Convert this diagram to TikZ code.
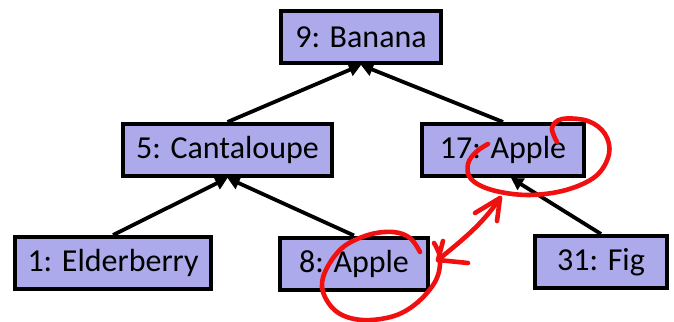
\documentclass[tikz,border=0pt]{standalone}
\usepackage{fontspec}
\setmainfont{Carlito}
\usetikzlibrary{arrows.meta}
\definecolor{boxfill}{RGB}{172,170,234}
\definecolor{inkred}{RGB}{240,16,16}
\begin{document}
\begin{tikzpicture}[x=1pt,y=-1pt,
  keybox/.style={draw=black, fill=boxfill, line width=4pt, rectangle,
    inner sep=0pt, minimum height=52pt, font=\fontsize{32}{36}\selectfont},
  link/.style={line width=3.8pt, -{Triangle[length=12pt,width=13pt]}},
  ink/.style={draw=inkred, line width=4.6pt, line cap=round, line join=round}]
\useasboundingbox (0,0) rectangle (674,321);

% tree nodes
\node[keybox, minimum width=160pt] (banana) at (361,37) {9: Banana};
\node[keybox, minimum width=209pt] (cant)   at (227.5,150) {5: Cantaloupe};
\node[keybox, minimum width=162pt] (appleA) at (503,150) {17: Apple};
\node[keybox, minimum width=196pt] (elder)  at (113,263) {1: Elderberry};
\node[keybox, minimum width=148pt] (appleB) at (354,263.5) {8: Apple};
\node[keybox, minimum width=132pt] (fig)    at (601,262) {31: Fig};

% child-to-parent links
\draw[link] (cant.north)   -- (banana.south);
\draw[link] (appleA.north) -- (banana.south);
\draw[link] (elder.north)  -- (cant.south);
\draw[link] (appleB.north) -- (cant.south);
\draw[link] (fig.north)    -- ([xshift=8pt]appleA.south);

% hand-drawn circles around the duplicate keys
\draw[ink] plot[smooth, tension=0.6] coordinates {
  (557,142) (552,128) (562,119) (588,121) (605,134) (609,154) (596,176)
  (566,190) (528,195) (492,190) (471,179) (468,164) (476,152) (488,144)};
\draw[ink] plot[smooth, tension=0.6] coordinates {
  (420,252) (410,238) (393,232) (368,235) (342,248) (325,272) (323,292)
  (337,312) (362,320) (394,316) (418,302) (436,280) (440,258) (434,243)};

% double-headed hand-drawn arrow
\coordinate (tipA) at (438,260);
\coordinate (tipB) at (500,198);
\draw[ink] (tipA) .. controls (462,240) and (482,225) .. (tipB);
\draw[ink] (443,241) -- (tipA) -- (468,263);
\draw[ink] (475,213) -- (tipB) -- (497,221);
\end{tikzpicture}
\end{document}
